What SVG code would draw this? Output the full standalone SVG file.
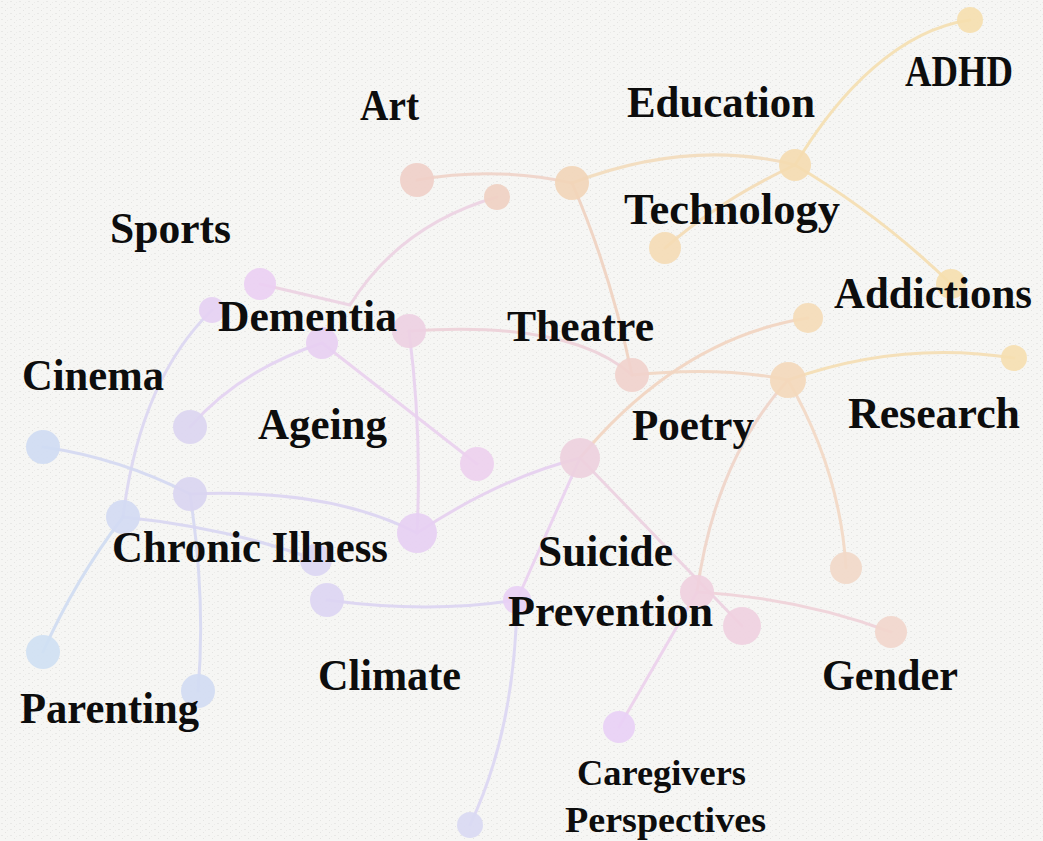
<svg xmlns="http://www.w3.org/2000/svg" width="1043" height="841" viewBox="0 0 1043 841">
<defs>
<pattern id="tex" width="9" height="6" patternUnits="userSpaceOnUse">
<rect width="9" height="6" fill="#f6f6f4"/>
<rect x="1" y="1" width="2" height="1" fill="#d8d8d6" opacity="0.45"/>
<rect x="5" y="4" width="1" height="1" fill="#cfcfcd" opacity="0.45"/>
<rect x="7" y="2" width="1" height="1" fill="#e2e2e0" opacity="0.55"/>
</pattern>
<style>
.e{fill:none;stroke-width:3;stroke-linecap:round;opacity:0.9}
circle{opacity:0.9}
.t{font-family:"Liberation Serif","DejaVu Serif",serif;font-weight:bold;font-size:44px;fill:#0d0d0d}
.s{font-size:35px}
</style>
</defs>
<rect width="1043" height="841" fill="url(#tex)"/>
<g id="connectors">
<path class="e" stroke="#efd3c8" d="M417,180 Q495,166 572,183"/>
<path class="e" stroke="#f3dcbb" d="M572,183 Q690,138 795,165"/>
<path class="e" stroke="#f0d2c0" d="M572,183 Q610,270 632,375"/>
<path class="e" stroke="#f5dfb0" d="M795,165 C840,90 900,30 970,20"/>
<path class="e" stroke="#f4dcb5" d="M795,165 Q720,200 665,248"/>
<path class="e" stroke="#f5deb0" d="M795,165 Q880,215 951,284"/>
<path class="e" stroke="#ecd2e2" d="M497,197 Q400,225 350,305 L260,284"/>
<path class="e" stroke="#dcd6f2" d="M212,310 Q140,380 123,517"/>
<path class="e" stroke="#cfdcf2" d="M123,517 Q75,580 43,652"/>
<path class="e" stroke="#e3d2f2" d="M322,343 Q240,370 190,427"/>
<path class="e" stroke="#ead0ee" d="M322,343 L477,464"/>
<path class="e" stroke="#edd0d8" d="M409,331 Q570,320 632,375"/>
<path class="e" stroke="#e8d0ee" d="M409,331 Q422,430 417,533"/>
<path class="e" stroke="#d4d8f2" d="M43,447 Q120,458 190,494"/>
<path class="e" stroke="#dcd4f2" d="M190,494 Q330,488 417,533"/>
<path class="e" stroke="#d6d8f2" d="M190,494 Q206,600 198,691"/>
<path class="e" stroke="#d8d6f2" d="M123,517 Q230,528 316,560"/>
<path class="e" stroke="#e6cff0" d="M417,533 Q500,478 580,458"/>
<path class="e" stroke="#f2d4c0" d="M580,458 Q680,338 808,318"/>
<path class="e" stroke="#ead0f0" d="M580,458 L517,600"/>
<path class="e" stroke="#ecd0e0" d="M580,458 L742,626"/>
<path class="e" stroke="#f2d6c2" d="M632,375 Q720,366 788,380"/>
<path class="e" stroke="#f5deb3" d="M788,380 Q900,340 1014,358"/>
<path class="e" stroke="#f3d8c4" d="M788,380 Q840,470 846,568"/>
<path class="e" stroke="#f0d4c8" d="M788,380 Q715,460 697,592"/>
<path class="e" stroke="#efd2d8" d="M697,592 Q800,598 891,632"/>
<path class="e" stroke="#ecd0ec" d="M697,592 L619,727"/>
<path class="e" stroke="#dcd4f2" d="M327,600 Q430,614 517,600"/>
<path class="e" stroke="#dcd6f3" d="M517,600 Q515,730 470,825"/>
</g>
<g id="n-adhd-dot"><circle cx="970" cy="20" r="13" fill="#f6dfae"/></g>
<g id="n-education-hub"><circle cx="795" cy="165" r="16" fill="#f5dbb0"/></g>
<g id="n-technology-dot"><circle cx="665" cy="248" r="16" fill="#f5dcb5"/></g>
<g id="n-addictions-dot"><circle cx="951" cy="284" r="15" fill="#f6dfae"/></g>
<g id="n-art-dot"><circle cx="417" cy="180" r="17" fill="#f0cfc8"/></g>
<g id="n-theatre-top"><circle cx="572" cy="183" r="17" fill="#f2d5b8"/></g>
<g id="n-art-small"><circle cx="497" cy="197" r="13" fill="#f0d0c2"/></g>
<g id="n-sports-top"><circle cx="260" cy="284" r="16" fill="#ebcff3"/></g>
<g id="n-sports-small"><circle cx="212" cy="310" r="13" fill="#e6d0f3"/></g>
<g id="n-dementia-center"><circle cx="322" cy="343" r="16" fill="#e8cff2"/></g>
<g id="n-dementia-right"><circle cx="409" cy="331" r="17" fill="#edd0e2"/></g>
<g id="n-ageing-left"><circle cx="190" cy="427" r="17" fill="#dcd5f1"/></g>
<g id="n-ageing-right"><circle cx="477" cy="464" r="17" fill="#edd0ee"/></g>
<g id="n-cinema"><circle cx="43" cy="447" r="17" fill="#cfdcf3"/></g>
<g id="n-chronic-a"><circle cx="190" cy="494" r="17" fill="#d9d5f1"/></g>
<g id="n-chronic-b"><circle cx="123" cy="517" r="17" fill="#d3daf3"/></g>
<g id="n-chronic-hub"><circle cx="417" cy="533" r="20" fill="#e7cff3"/></g>
<g id="n-chronic-c"><circle cx="316" cy="560" r="16" fill="#dcd6f3"/></g>
<g id="n-climate"><circle cx="327" cy="600" r="17" fill="#ddd5f3"/></g>
<g id="n-parenting-left"><circle cx="43" cy="652" r="17" fill="#cfe0f3"/></g>
<g id="n-parenting-right"><circle cx="198" cy="691" r="17" fill="#d1dcf3"/></g>
<g id="n-poetry-hub"><circle cx="580" cy="458" r="20" fill="#edd0de"/></g>
<g id="n-theatre-bottom"><circle cx="632" cy="375" r="17" fill="#f1d2cc"/></g>
<g id="n-addictions-low"><circle cx="808" cy="318" r="15" fill="#f5dbb7"/></g>
<g id="n-research-hub"><circle cx="788" cy="380" r="18" fill="#f4d8ba"/></g>
<g id="n-research-right"><circle cx="1014" cy="358" r="13" fill="#f6dfb0"/></g>
<g id="n-research-low"><circle cx="846" cy="568" r="16" fill="#f2d8c8"/></g>
<g id="n-suicide-hub"><circle cx="697" cy="592" r="17" fill="#efd0df"/></g>
<g id="n-suicide-right"><circle cx="742" cy="626" r="19" fill="#efd0e0"/></g>
<g id="n-gender"><circle cx="891" cy="632" r="16" fill="#f2d6cc"/></g>
<g id="n-suicide-small"><circle cx="517" cy="600" r="14" fill="#e9d0f5"/></g>
<g id="n-caregivers"><circle cx="619" cy="727" r="16" fill="#e9d0f6"/></g>
<g id="n-bottom"><circle cx="470" cy="825" r="13" fill="#d9d9f3"/></g>
<g id="labels">
<text class="t" x="360" y="120" textLength="59" lengthAdjust="spacingAndGlyphs">Art</text>
<text class="t" x="627" y="117" textLength="188" lengthAdjust="spacingAndGlyphs">Education</text>
<text class="t" x="905" y="86" textLength="108" lengthAdjust="spacingAndGlyphs">ADHD</text>
<text class="t" x="624" y="224" textLength="216" lengthAdjust="spacingAndGlyphs">Technology</text>
<text class="t" x="110" y="243" textLength="121" lengthAdjust="spacingAndGlyphs">Sports</text>
<text class="t" x="834" y="308" textLength="198" lengthAdjust="spacingAndGlyphs">Addictions</text>
<text class="t" x="218" y="331" textLength="179" lengthAdjust="spacingAndGlyphs">Dementia</text>
<text class="t" x="507" y="341" textLength="147" lengthAdjust="spacingAndGlyphs">Theatre</text>
<text class="t" x="22" y="390" textLength="142" lengthAdjust="spacingAndGlyphs">Cinema</text>
<text class="t" x="258" y="439" textLength="129" lengthAdjust="spacingAndGlyphs">Ageing</text>
<text class="t" x="632" y="440" textLength="122" lengthAdjust="spacingAndGlyphs">Poetry</text>
<text class="t" x="848" y="428" textLength="172" lengthAdjust="spacingAndGlyphs">Research</text>
<text class="t" x="112" y="562" textLength="276" lengthAdjust="spacingAndGlyphs">Chronic Illness</text>
<text class="t" x="538" y="566" textLength="135" lengthAdjust="spacingAndGlyphs">Suicide</text>
<text class="t" x="508" y="626" textLength="205" lengthAdjust="spacingAndGlyphs">Prevention</text>
<text class="t" x="318" y="690" textLength="143" lengthAdjust="spacingAndGlyphs">Climate</text>
<text class="t" x="822" y="690" textLength="136" lengthAdjust="spacingAndGlyphs">Gender</text>
<text class="t" x="20" y="723" textLength="179" lengthAdjust="spacingAndGlyphs">Parenting</text>
<text class="t s" x="577" y="785" textLength="169" lengthAdjust="spacingAndGlyphs">Caregivers</text>
<text class="t s" x="565" y="832" textLength="201" lengthAdjust="spacingAndGlyphs">Perspectives</text>
</g>
</svg>
